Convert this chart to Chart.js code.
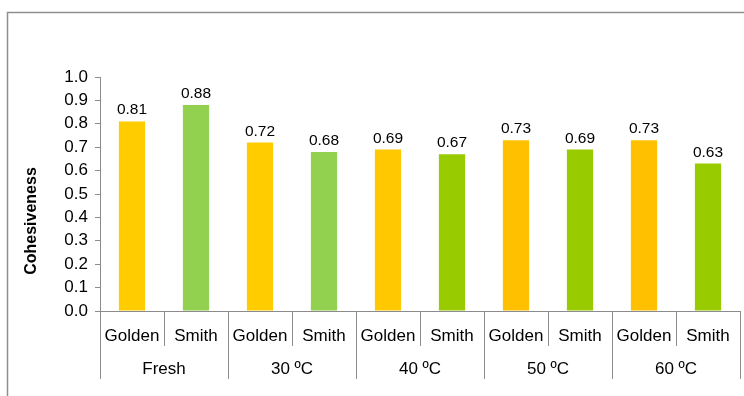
<!DOCTYPE html>
<html>
<head>
<meta charset="utf-8">
<script src="https://cdn.jsdelivr.net/npm/chart.js@4.4.1/dist/chart.umd.min.js"></script>
<style>
  html, body { margin: 0; padding: 0; background: #ffffff; }
  #wrap { width: 744px; height: 396px; position: relative; }
</style>
</head>
<body>
<div id="wrap"><canvas id="c" width="744" height="396"></canvas></div>
<script>
// Treatments (outer category row) and apple varieties (inner row)
const groups = ['Fresh', '30 ºC', '40 ºC', '50 ºC', '60 ºC'];
const varieties = ['Golden', 'Smith'];

// Cohesiveness per treatment, in variety order
const golden = [0.81, 0.72, 0.69, 0.73, 0.73];
const smith  = [0.88, 0.68, 0.67, 0.69, 0.63];

// Bar fill per treatment
const goldenColors = ['#FFCC00', '#FFCC00', '#FFC800', '#FFC000', '#FFC000'];
const smithColors  = ['#92D050', '#92D050', '#99CC00', '#99CC00', '#99CC00'];

const yTicks = [0, 0.1, 0.2, 0.3, 0.4, 0.5, 0.6, 0.7, 0.8, 0.9, 1.0];

// Flatten to one bar per treatment/variety pair
const labels = [], values = [], colors = [];
groups.forEach((g, i) => {
  labels.push(varieties[0]); values.push(golden[i]); colors.push(goldenColors[i]);
  labels.push(varieties[1]); values.push(smith[i]);  colors.push(smithColors[i]);
});

const FONT = '"Liberation Sans", Arial, sans-serif';
const AXIS = '#8c8c8c';

const decorations = {
  id: 'decorations',
  afterDraw(chart) {
    const ctx = chart.ctx;
    const x = chart.scales.x, y = chart.scales.y;
    const area = chart.chartArea;
    const y0 = y.getPixelForValue(0);
    const n = labels.length;
    const step = (area.right - area.left) / n;

    ctx.save();
    // outer frame
    ctx.strokeStyle = '#8f8f8f';
    ctx.lineWidth = 1.5;
    ctx.beginPath();
    ctx.moveTo(7.5, 400);
    ctx.lineTo(7.5, 12.5);
    ctx.lineTo(750, 12.5);
    ctx.stroke();

    // category axis line and separators
    ctx.strokeStyle = AXIS;
    ctx.lineWidth = 1;
    ctx.beginPath();
    ctx.moveTo(area.left - 5, Math.round(y0) + 0.5);
    ctx.lineTo(area.right + 1, Math.round(y0) + 0.5);
    for (let i = 0; i <= n; i++) {
      const px = Math.round(area.left + i * step) + 0.5;
      const bottom = (i % 2 === 0) ? y0 + 68 : y0 + 35;
      ctx.moveTo(px, y0);
      ctx.lineTo(px, bottom);
    }
    ctx.stroke();

    // inner labels (varieties)
    ctx.fillStyle = '#000000';
    ctx.textAlign = 'center';
    ctx.textBaseline = 'middle';
    ctx.font = '17px ' + FONT;
    labels.forEach((lab, i) => {
      ctx.fillText(lab, x.getPixelForValue(i), y0 + 25);
    });
    // outer labels (treatments)
    groups.forEach((g, i) => {
      const cx = (x.getPixelForValue(2 * i) + x.getPixelForValue(2 * i + 1)) / 2;
      ctx.fillText(g, cx, y0 + 58);
    });

    // value labels
    ctx.font = '15.5px ' + FONT;
    ctx.textBaseline = 'alphabetic';
    const meta = chart.getDatasetMeta(0);
    meta.data.forEach((bar, i) => {
      ctx.fillText(values[i].toFixed(2), bar.x, bar.y - 7);
    });

    // y axis title
    ctx.font = 'bold 16px ' + FONT;
    ctx.textBaseline = 'middle';
    ctx.translate(32, 221);
    ctx.rotate(-Math.PI / 2);
    ctx.fillText('Cohesiveness', 0, 0);
    ctx.restore();
  }
};

new Chart(document.getElementById('c'), {
  type: 'bar',
  data: {
    labels: labels,
    datasets: [{
      data: values,
      backgroundColor: colors,
      borderWidth: 0,
      categoryPercentage: 1.0,
      barPercentage: 0.41
    }]
  },
  options: {
    responsive: false,
    animation: false,
    devicePixelRatio: 1,
    layout: { padding: { top: 77, right: 4, left: 0, bottom: 0 } },
    plugins: { legend: { display: false }, tooltip: { enabled: false } },
    scales: {
      x: {
        type: 'category',
        offset: true,
        grid: { display: false },
        border: { display: false },
        ticks: { display: false },
        afterFit(scale) { scale.height = 85; }
      },
      y: {
        min: 0,
        max: 1,
        afterBuildTicks(scale) { scale.ticks = yTicks.map(v => ({ value: v })); },
        ticks: {
          color: '#000000',
          font: { family: FONT, size: 17 },
          padding: 7,
          callback: v => Number(v).toFixed(1)
        },
        grid: { drawOnChartArea: false, drawTicks: true, tickLength: 5, color: AXIS },
        border: { display: true, color: AXIS },
        afterFit(scale) { scale.width = 100; }
      }
    }
  },
  plugins: [decorations]
});
</script>
</body>
</html>
